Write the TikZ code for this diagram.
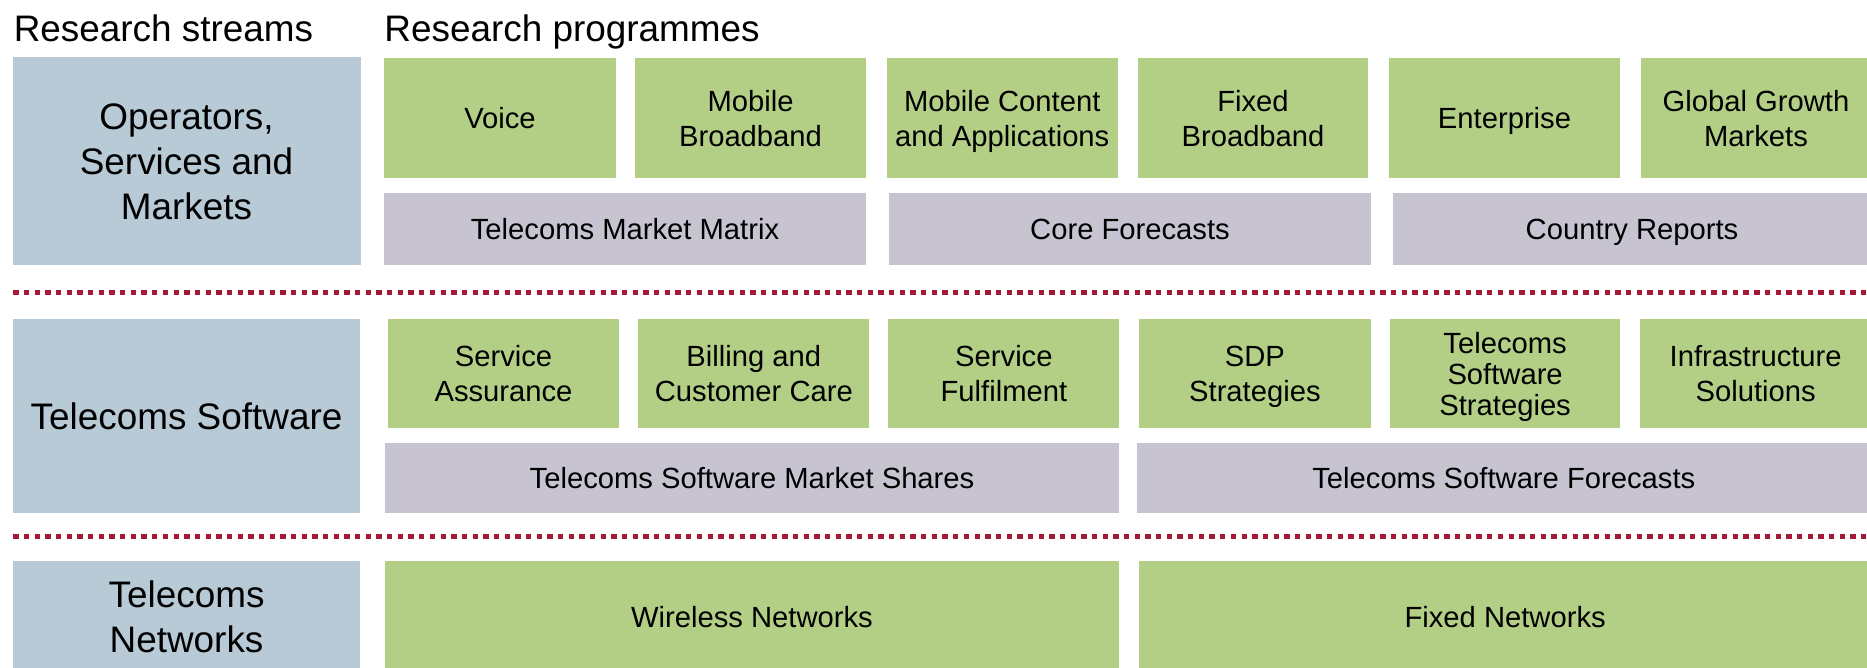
\documentclass[tikz,border=0pt]{standalone}
\usepackage{fontspec}
\setmainfont{Liberation Sans}
\definecolor{prog}{RGB}{179,207,134}
\definecolor{stream}{RGB}{183,202,214}
\definecolor{data}{RGB}{200,195,208}
\definecolor{sep}{RGB}{165,25,55}
\newcommand\mybox[7]{\node[#2, minimum width={(#5-#3)*0.5pt}, minimum height={(#6-#4)*0.5pt}] (#1) at ({(#3+#5)/2},{(#4+#6)/2}) {#7};}
\tikzset{
  base/.style={inner sep=0pt, outer sep=0pt, draw=none, align=center, text=black, text depth=0pt},
  progbox/.style={base, fill=prog, font=\fontsize{14.6pt}{17.5pt}\selectfont},
  databox/.style={base, fill=data, font=\fontsize{14.6pt}{17.5pt}\selectfont},
  streambox/.style={base, fill=stream, font=\fontsize{18.45pt}{22.5pt}\selectfont},
  header/.style={inner sep=0pt, anchor=base west, font=\fontsize{18.45pt}{22.5pt}\selectfont},
  sepline/.style={draw=sep, line width=2.67pt, dash pattern=on 2.67pt off 2.67pt}
}
\begin{document}
\begin{tikzpicture}[x=0.5pt,y=-0.5pt]
\useasboundingbox (0,0) rectangle (1867,668);
\clip (0,0) rectangle (1867,668);
% headers
\node[header] (hstreams) at (13.4,41.7) {Research streams};
\node[header] (hprog) at (384,41.7) {Research programmes};
% stream 1
\mybox{osm}{streambox}{12.5}{57.3}{360.5}{265}{Operators,\\Services and\\Markets}
\mybox{voice}{progbox}{384}{58.3}{616}{178.3}{Voice}
\mybox{mbb}{progbox}{635}{58.3}{866}{178.3}{Mobile\\Broadband}
\mybox{mca}{progbox}{887}{58.3}{1117.5}{178.3}{Mobile Content\\and Applications}
\mybox{fbb}{progbox}{1138}{58.3}{1368}{178.3}{Fixed\\Broadband}
\mybox{ent}{progbox}{1389}{58.3}{1620}{178.3}{Enterprise}
\mybox{ggm}{progbox}{1641}{58.3}{1871}{178.3}{Global Growth\\Markets}
\mybox{tmm}{databox}{384}{192.7}{866}{265}{Telecoms Market Matrix}
\mybox{cf}{databox}{889}{192.7}{1371}{265}{Core Forecasts}
\mybox{cr}{databox}{1393}{192.7}{1871}{265}{Country Reports}
% separator 1
\coordinate (s1a) at (13.3,292.7);
\coordinate (s1b) at (1867,292.7);
\draw[sepline] (s1a) -- (s1b);
% stream 2
\mybox{ts}{streambox}{12.8}{319}{360.3}{512.7}{Telecoms Software}
\mybox{sa}{progbox}{388.4}{319}{618.6}{428.3}{Service\\Assurance}
\mybox{bcc}{progbox}{638.4}{319}{869.3}{428.3}{Billing and\\Customer Care}
\mybox{sf}{progbox}{888.4}{319}{1119.4}{428.3}{Service\\Fulfilment}
\mybox{sdp}{progbox}{1139.3}{319}{1370.5}{428.3}{SDP\\Strategies}
\mybox{tss}{progbox, font=\fontsize{14.6pt}{15.6pt}\selectfont}{1389.8}{319}{1620.4}{428.3}{Telecoms\\Software\\Strategies}
\mybox{inf}{progbox}{1640.3}{319}{1871}{428.3}{Infrastructure\\Solutions}
\mybox{tsms}{databox}{384.6}{442.7}{1119.4}{512.7}{Telecoms Software Market Shares}
\mybox{tsf}{databox}{1136.6}{442.7}{1871}{512.7}{Telecoms Software Forecasts}
% separator 2
\coordinate (s2a) at (13.3,536.7);
\coordinate (s2b) at (1867,536.7);
\draw[sepline] (s2a) -- (s2b);
% stream 3
\mybox{tn}{streambox}{12.8}{560.7}{360.3}{673}{Telecoms\\Networks}
\mybox{wn}{progbox}{384.6}{560.7}{1119.4}{673}{Wireless Networks}
\mybox{fn}{progbox}{1139.3}{560.7}{1871}{673}{Fixed Networks}
\end{tikzpicture}
\end{document}
